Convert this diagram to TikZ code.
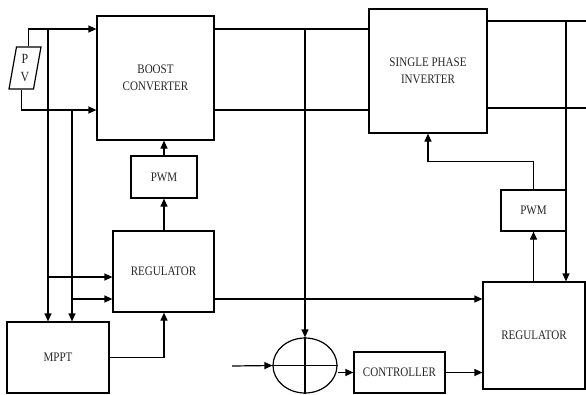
\documentclass[tikz,border=0pt]{standalone}
\usepackage{fontspec}
\setmainfont[FakeStretch=0.85]{Liberation Serif}
\usetikzlibrary{shapes.geometric,arrows.meta}
\begin{document}
\begin{tikzpicture}[
    x=1pt, y=-1pt,
    blk/.style={draw, line width=1.2pt, align=center, inner sep=1pt,
                text=black!85, font=\fontsize{13}{17}\selectfont},
    sumblk/.style={draw, ellipse, line width=1.2pt, inner sep=0pt,
                   minimum width=64pt, minimum height=55pt},
    wire/.style={line width=1.2pt},
    arr/.style={wire, -{Triangle[length=8pt,width=7pt]}}
]
\useasboundingbox (0,0) rectangle (586,394);

\node[blk, trapezium, trapezium left angle=81, trapezium right angle=99,
      trapezium stretches=true, minimum width=32pt, minimum height=42pt,
      font=\fontsize{14}{18}\selectfont] (pv) at (25,68) {P\\V};
\node[blk, minimum width=117pt, minimum height=124pt] (boost) at (155.5,78) {BOOST\\CONVERTER};
\node[blk, minimum width=66pt,  minimum height=42pt]  (pwmA)  at (164,177)   {PWM};
\node[blk, minimum width=101pt, minimum height=81pt]  (regA)  at (163.5,271.5) {REGULATOR};
\node[blk, minimum width=102pt, minimum height=71pt]  (mppt)  at (58,357.5)  {MPPT};
\node[blk, minimum width=118pt, minimum height=124pt] (inv)   at (428,71)    {SINGLE PHASE\\INVERTER};
\node[blk, minimum width=65pt,  minimum height=41pt]  (pwmB)  at (533.5,210.5) {PWM};
\node[blk, minimum width=102pt, minimum height=107pt] (regB)  at (534,335.5) {REGULATOR};
\node[blk, minimum width=91pt,  minimum height=41pt]  (ctrl)  at (399.5,372.5) {CONTROLLER};
\node[sumblk] (sum) at (305,365.5) {};

\coordinate (jA)   at (48,29);
\coordinate (jB)   at (72,110);
\coordinate (jC)   at (305,29);
\coordinate (jD)   at (566,21);
\coordinate (outA) at (586,21);
\coordinate (outB) at (586,108);
\coordinate (ref)  at (232,366);

\draw[arr] (pv.top side) |- (boost.west |- jA);
\draw[arr] (pv.bottom side) |- (boost.west |- jB);
\draw[arr] (jA) -- (jA |- mppt.north);
\draw[arr] (jB) -- (jB |- mppt.north);
\draw[arr] (jA |- 0,277) -- (regA.west |- 0,277);
\draw[arr] (jB |- 0,299) -- (regA.west |- 0,299);
\draw[arr] (mppt.east) -| (pwmA.south |- regA.south);
\draw[arr] (pwmA.south |- regA.north) -- (pwmA.south);
\draw[arr] (pwmA.north) -- (pwmA.north |- boost.south);

\draw[wire] (boost.east |- jC) -- (inv.west |- jC);
\draw[wire] (boost.east |- jB) -- (inv.west |- jB);
\draw[arr] (jC) -- (sum.north);
\draw[wire] (sum.north) -- (sum.south);
\draw[wire] (sum.west) -- (sum.east);
\draw[arr] (ref) -- (sum.west);
\draw[arr] (sum.east |- ctrl.west) -- (ctrl.west);
\draw[arr] (ctrl.east) -- (regB.west |- ctrl.east);
\draw[arr] (regA.east |- 0,299) -- (regB.west |- 0,299);

\draw[wire] (inv.east |- outA) -- (outA);
\draw[wire] (inv.east |- outB) -- (outB);
\draw[arr] (jD) -- (jD |- regB.north);
\draw[arr] (pwmB.south |- regB.north) -- (pwmB.south);
\draw[arr] (pwmB.north) -- ++(0,-28) -| (inv.south);

\end{tikzpicture}
\end{document}
